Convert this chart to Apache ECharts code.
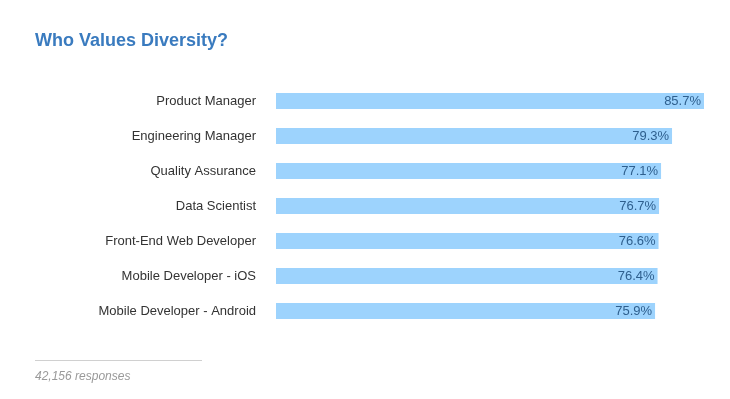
<!DOCTYPE html>
<html>
<head>
<meta charset="utf-8">
<script src="https://cdn.jsdelivr.net/npm/echarts@6/dist/echarts.min.js"></script>
<style>html,body{margin:0;padding:0;background:#fff}#c{width:730px;height:399px}</style>
</head>
<body>
<div id="c"></div>
<script>
const categories = ["Product Manager","Engineering Manager","Quality Assurance","Data Scientist","Front-End Web Developer","Mobile Developer - iOS","Mobile Developer - Android"];
const values = [85.7, 79.3, 77.1, 76.7, 76.6, 76.4, 75.9];
const titleText = "Who Values Diversity?";
const footnote = "42,156 responses";

const chart = echarts.init(document.getElementById('c'));
chart.setOption({
  animation: false,
  title: [
    { text: titleText, left: 30, top: 27, textStyle: { fontFamily: 'Arial, Liberation Sans', fontSize: 18, fontWeight: 'bold', color: '#3a7bbf' } },
    { text: footnote, left: 30, top: 366, textStyle: { fontFamily: 'Arial, Liberation Sans', fontSize: 12, fontStyle: 'italic', fontWeight: 'normal', color: '#999' } }
  ],
  graphic: [
    { type: 'line', shape: { x1: 35, y1: 360.5, x2: 202, y2: 360.5 }, style: { stroke: '#d0d0d0', lineWidth: 1 } }
  ],
  grid: { left: 276, right: 26, top: 83.5, height: 245, containLabel: false },
  xAxis: { type: 'value', min: 0, max: 'dataMax', show: false },
  yAxis: {
    type: 'category', data: categories, inverse: true,
    axisLine: { show: false }, axisTick: { show: false }, splitLine: { show: false },
    axisLabel: { margin: 20, fontFamily: 'Arial, Liberation Sans', fontSize: 13, color: '#333' }
  },
  series: [{
    type: 'bar', data: values, barWidth: 16,
    itemStyle: { color: '#9dd3fd' },
    label: { show: true, position: 'insideRight', offset: [2, 0], formatter: p => p.value.toFixed(1) + '%', fontFamily: 'Arial, Liberation Sans', fontSize: 13, color: '#2e5f8e' }
  }]
});
</script>
</body>
</html>
